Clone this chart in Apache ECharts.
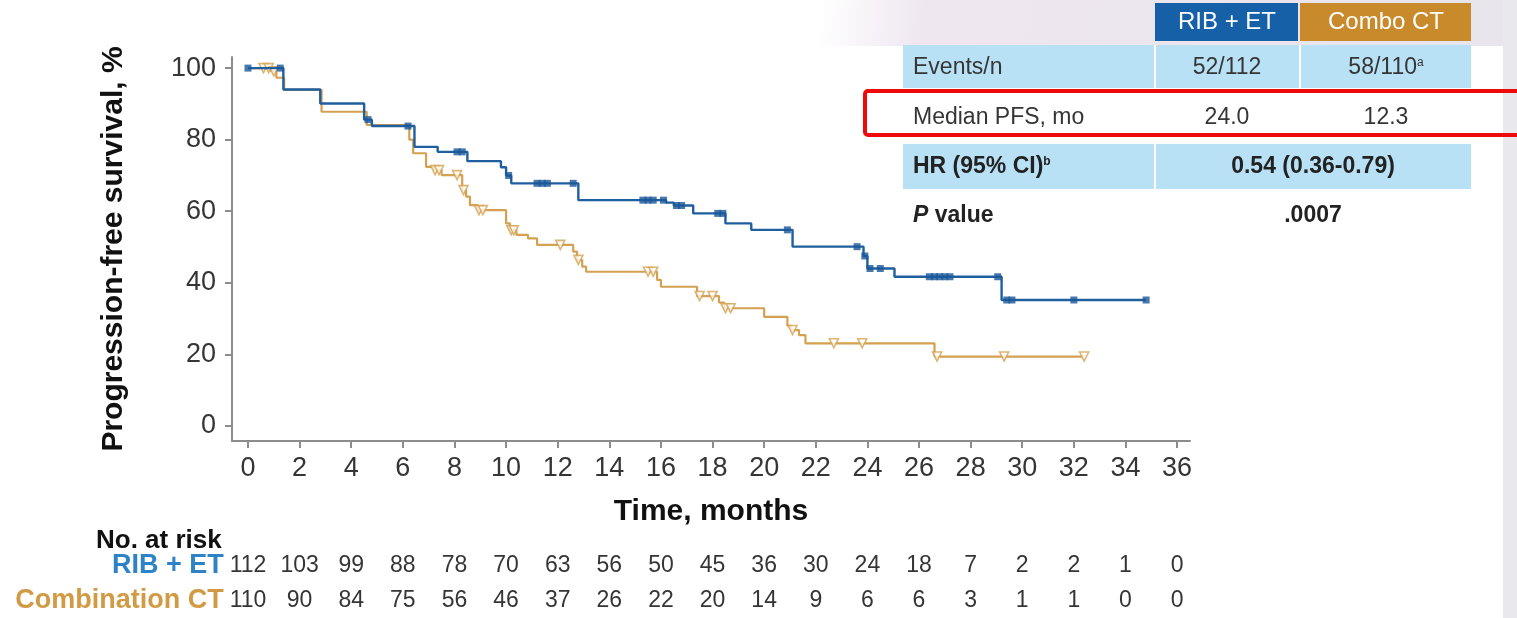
<!DOCTYPE html>
<html>
<head>
<meta charset="utf-8">
<style>
  html, body { margin: 0; padding: 0; background: #ffffff; }
  #chart { width: 1517px; height: 618px; }
</style>
<script src="https://cdn.jsdelivr.net/npm/echarts@6/dist/echarts.min.js"></script>
</head>
<body>
<div id="chart"></div>
<script>
// ---------- data ----------
const xTicks = [0, 2, 4, 6, 8, 10, 12, 14, 16, 18, 20, 22, 24, 26, 28, 30, 32, 34, 36];
const yTicks = [0, 20, 40, 60, 80, 100];

const riskRib = [112, 103, 99, 88, 78, 70, 63, 56, 50, 45, 36, 30, 24, 18, 7, 2, 2, 1, 0];
const riskCt  = [110, 90, 84, 75, 56, 46, 37, 26, 22, 20, 14, 9, 6, 6, 3, 1, 1, 0, 0];

// Kaplan-Meier steps [month, PFS %]
const ribCurve = [
  [0, 100], [1.37, 94.0], [2.8, 90.1], [4.5, 85.6], [4.8, 83.8], [6.45, 78.0],
  [7.35, 76.6], [8.5, 74.0], [9.8, 72.3], [10.0, 70.0], [10.2, 67.8], [12.8, 63.1],
  [16.2, 62.4], [16.5, 61.6], [17.25, 59.4], [18.5, 56.6], [19.5, 54.8], [21.1, 50.1],
  [23.85, 47.5], [24.0, 44.0], [25.05, 41.7], [29.2, 35.2], [34.8, 35.2]
];
const ribCensored = [
  [0, 100], [1.25, 100], [4.65, 85.6], [6.2, 83.8], [8.1, 76.6], [8.3, 76.6],
  [10.1, 70.0], [11.2, 67.8], [11.4, 67.8], [11.6, 67.8], [12.6, 67.8],
  [15.3, 63.1], [15.5, 63.1], [15.7, 63.1], [16.1, 63.1], [16.6, 61.6], [16.8, 61.6],
  [18.2, 59.4], [18.4, 59.4], [20.9, 54.8], [23.6, 50.1], [23.9, 47.5], [24.1, 44.0],
  [24.5, 44.0], [26.4, 41.7], [26.6, 41.7], [26.8, 41.7], [27.0, 41.7], [27.2, 41.7],
  [29.05, 41.7], [29.4, 35.2], [29.6, 35.2], [32.0, 35.2], [34.8, 35.2]
];
const ctCurve = [
  [0, 100], [0.9, 99.1], [1.1, 97.3], [1.4, 93.9], [2.85, 87.8], [4.6, 84.1],
  [6.25, 80.0], [6.4, 76.2], [6.9, 72.4], [7.2, 71.5], [7.5, 70.1], [8.3, 65.9],
  [8.45, 64.1], [8.6, 61.7], [8.9, 60.3], [10.0, 56.6], [10.15, 54.7], [10.4, 53.4],
  [10.85, 52.4], [11.2, 50.6], [12.6, 48.7], [12.75, 46.4], [12.95, 44.5], [13.1, 43.1],
  [15.85, 40.8], [16.0, 38.9], [17.4, 36.3], [18.25, 34.5], [18.45, 32.9], [20.0, 30.5],
  [20.9, 28.0], [21.05, 26.8], [21.35, 25.4], [21.6, 23.1], [26.6, 19.4], [32.4, 19.4]
];
const ctCensored = [
  [0.6, 100], [0.8, 100], [1.0, 99.1], [7.25, 71.5], [7.4, 71.5], [8.1, 70.1],
  [8.35, 65.9], [8.95, 60.3], [9.1, 60.3], [10.2, 54.7], [10.3, 54.7], [12.1, 50.6],
  [12.8, 46.4], [15.5, 43.1], [15.7, 43.1], [17.5, 36.3], [18.0, 36.3], [18.5, 32.9],
  [18.7, 32.9], [21.1, 26.8], [22.7, 23.1], [23.8, 23.1], [26.7, 19.4], [29.3, 19.4],
  [32.4, 19.4]
];

// summary table text
const tableHeader = ['RIB + ET', 'Combo CT'];
const rowLabels = ['Events/n', 'Median PFS, mo', 'HR (95% CI)', 'value'];
const eventsN = ['52/112', '58/110'];
const medianPFS = ['24.0', '12.3'];
const hrText = '0.54 (0.36-0.79)';
const pText = '.0007';

// ---------- styling ----------
const BLUE = '#1f5f9f';
const BLUE_MARK = '#1a5898';
const ORANGE = '#d4a150';
const AXIS = '#8c8c8c';
const TXT = '#353535';
const FONT = "'Liberation Sans', Arial, Helvetica, sans-serif";
const NARROW = "'Liberation Sans Narrow', 'Arial Narrow', 'Liberation Sans', Arial, sans-serif";
const LIGHT = '#b9e1f6';

const chart = echarts.init(document.getElementById('chart'), null, { renderer: 'canvas' });

function riskAxis(arr, offset, name, color) {
  return {
    type: 'value', gridIndex: 0, position: 'bottom', offset: offset,
    min: -0.62, max: 36.5,
    axisLine: { show: false, onZero: false }, axisTick: { show: false }, splitLine: { show: false },
    axisLabel: {
      customValues: xTicks, margin: 0, verticalAlign: 'middle',
      fontFamily: NARROW, fontSize: 23, color: TXT,
      formatter: v => { const i = xTicks.indexOf(Math.round(v)); return i >= 0 ? String(arr[i]) : ''; }
    },
    name: name, nameLocation: 'start', nameGap: 4,
    nameTextStyle: { fontFamily: FONT, fontSize: 27, fontWeight: 'bold', color: color, verticalAlign: 'middle', align: 'right' }
  };
}

const option = {
  backgroundColor: '#ffffff',
  animation: false,
  grid: { left: 232, top: 57, width: 958, height: 384, containLabel: false },
  xAxis: [
    {
      type: 'value', min: -0.62, max: 36.5,
      axisLine: { show: true, onZero: false, lineStyle: { color: AXIS, width: 2 } },
      axisTick: { show: true, customValues: xTicks, length: 7, lineStyle: { color: AXIS, width: 2 } },
      axisLabel: { customValues: xTicks, margin: 14, fontFamily: NARROW, fontSize: 27, color: TXT },
      splitLine: { show: false },
      name: 'Time, months', nameLocation: 'middle', nameGap: 56,
      nameTextStyle: { fontFamily: FONT, fontSize: 30, fontWeight: 'bold', color: '#111' }
    },
    riskAxis(riskRib, 125, 'RIB + ET', '#2d83c6'),
    riskAxis(riskCt, 160, 'Combination CT', '#d19a44')
  ],
  yAxis: {
    type: 'value', min: -4.2, max: 103.1,
    axisLine: { show: true, onZero: false, lineStyle: { color: AXIS, width: 2 } },
    axisTick: { show: true, customValues: yTicks, length: 7, lineStyle: { color: AXIS, width: 2 } },
    axisLabel: { customValues: yTicks, margin: 16, fontFamily: FONT, fontSize: 27, color: TXT },
    splitLine: { show: false },
    name: 'Progression-free survival, %', nameLocation: 'middle', nameGap: 103, nameRotate: 90,
    nameTextStyle: { fontFamily: FONT, fontSize: 30, fontWeight: 'bold', color: '#111' }
  },
  series: [
    {
      name: 'Combination CT', type: 'line', step: 'end', data: ctCurve,
      showSymbol: false, lineStyle: { color: ORANGE, width: 2.2 }, z: 2
    },
    {
      name: 'Combination CT censored', type: 'scatter', data: ctCensored,
      symbol: 'triangle', symbolRotate: 180, symbolSize: 9,
      itemStyle: { color: '#ffffff', borderColor: ORANGE, borderWidth: 1.6 }, z: 3
    },
    {
      name: 'RIB + ET', type: 'line', step: 'end', data: ribCurve,
      showSymbol: false, lineStyle: { color: BLUE, width: 2.4 }, z: 4
    },
    {
      name: 'RIB + ET censored', type: 'scatter', data: ribCensored,
      symbol: 'rect', symbolSize: 7,
      itemStyle: { color: BLUE_MARK }, z: 5
    }
  ],
  graphic: [
    // slide background hints
    { type: 'rect', shape: { x: 820, y: 0, width: 690, height: 46 }, z: -10, silent: true,
      style: { fill: new echarts.graphic.LinearGradient(0, 0, 1, 1, [
        { offset: 0, color: 'rgba(236,228,238,0.0)' },
        { offset: 0.15, color: 'rgba(236,228,238,0.9)' },
        { offset: 1, color: 'rgba(230,226,234,0.9)' }]) } },
    { type: 'rect', shape: { x: 1503, y: 0, width: 14, height: 618 }, z: -10, silent: true,
      style: { fill: '#e9e9ed' } },
    // "No. at risk"
    { type: 'text', x: 96, y: 541, silent: true,
      style: { text: 'No. at risk', fontFamily: FONT, fontSize: 26, fontWeight: 'bold', fill: '#111', verticalAlign: 'middle' } },
    // header cells
    { type: 'rect', shape: { x: 1155, y: 3, width: 143, height: 38 }, style: { fill: '#1660a8' }, silent: true },
    { type: 'rect', shape: { x: 1300, y: 3, width: 171, height: 38 }, style: { fill: '#c98a2b' }, silent: true },
    { type: 'text', x: 1227, y: 22, silent: true,
      style: { text: tableHeader[0], fontFamily: FONT, fontSize: 24, fill: '#ffffff', align: 'center', verticalAlign: 'middle' } },
    { type: 'text', x: 1386, y: 22, silent: true,
      style: { text: tableHeader[1], fontFamily: FONT, fontSize: 24, fill: '#ffffff', align: 'center', verticalAlign: 'middle' } },
    // light blue rows
    { type: 'rect', shape: { x: 903, y: 45, width: 568, height: 43 }, style: { fill: LIGHT }, silent: true },
    { type: 'rect', shape: { x: 903, y: 144, width: 568, height: 45 }, style: { fill: LIGHT }, silent: true },
    // white dividers
    { type: 'rect', shape: { x: 1154, y: 45, width: 2, height: 43 }, style: { fill: '#ffffff' }, silent: true },
    { type: 'rect', shape: { x: 1299, y: 45, width: 2, height: 43 }, style: { fill: '#ffffff' }, silent: true },
    { type: 'rect', shape: { x: 1154, y: 144, width: 2, height: 45 }, style: { fill: '#ffffff' }, silent: true },
    // row texts
    { type: 'text', x: 913, y: 68, silent: true,
      style: { text: rowLabels[0], fontFamily: FONT, fontSize: 23, fill: TXT, verticalAlign: 'middle' } },
    { type: 'text', x: 1227, y: 68, silent: true,
      style: { text: eventsN[0], fontFamily: FONT, fontSize: 23, fill: TXT, align: 'center', verticalAlign: 'middle' } },
    { type: 'text', x: 1386, y: 68, silent: true,
      style: { text: eventsN[1] + '{s|a}', fontFamily: FONT, fontSize: 23, fill: TXT, align: 'center', verticalAlign: 'middle',
        rich: { s: { fontFamily: FONT, fontSize: 12, fill: TXT, verticalAlign: 'top', lineHeight: 14 } } } },
    { type: 'text', x: 913, y: 118, silent: true,
      style: { text: rowLabels[1], fontFamily: FONT, fontSize: 23, fill: TXT, verticalAlign: 'middle' } },
    { type: 'text', x: 1227, y: 118, silent: true,
      style: { text: medianPFS[0], fontFamily: FONT, fontSize: 23, fill: TXT, align: 'center', verticalAlign: 'middle' } },
    { type: 'text', x: 1386, y: 118, silent: true,
      style: { text: medianPFS[1], fontFamily: FONT, fontSize: 23, fill: TXT, align: 'center', verticalAlign: 'middle' } },
    { type: 'text', x: 913, y: 167, silent: true,
      style: { text: rowLabels[2] + '{s|b}', fontFamily: FONT, fontSize: 23, fontWeight: 'bold', fill: '#222', verticalAlign: 'middle',
        rich: { s: { fontFamily: FONT, fontSize: 12, fontWeight: 'bold', fill: '#222', verticalAlign: 'top', lineHeight: 14 } } } },
    { type: 'text', x: 1313, y: 167, silent: true,
      style: { text: hrText, fontFamily: FONT, fontSize: 23, fontWeight: 'bold', fill: '#222', align: 'center', verticalAlign: 'middle' } },
    { type: 'text', x: 913, y: 216, silent: true,
      style: { text: '{i|P} ' + rowLabels[3], fontFamily: FONT, fontSize: 23, fontWeight: 'bold', fill: '#222', verticalAlign: 'middle',
        rich: { i: { fontFamily: FONT, fontSize: 23, fontWeight: 'bold', fontStyle: 'italic', fill: '#222' } } } },
    { type: 'text', x: 1313, y: 216, silent: true,
      style: { text: pText, fontFamily: FONT, fontSize: 23, fontWeight: 'bold', fill: '#222', align: 'center', verticalAlign: 'middle' } },
    // red highlight box
    { type: 'rect', shape: { x: 865, y: 91, width: 670, height: 44, r: 3 }, silent: true, z: 10,
      style: { fill: 'none', stroke: '#ee0a0a', lineWidth: 4 } }
  ]
};
chart.setOption(option);
</script>
</body>
</html>
